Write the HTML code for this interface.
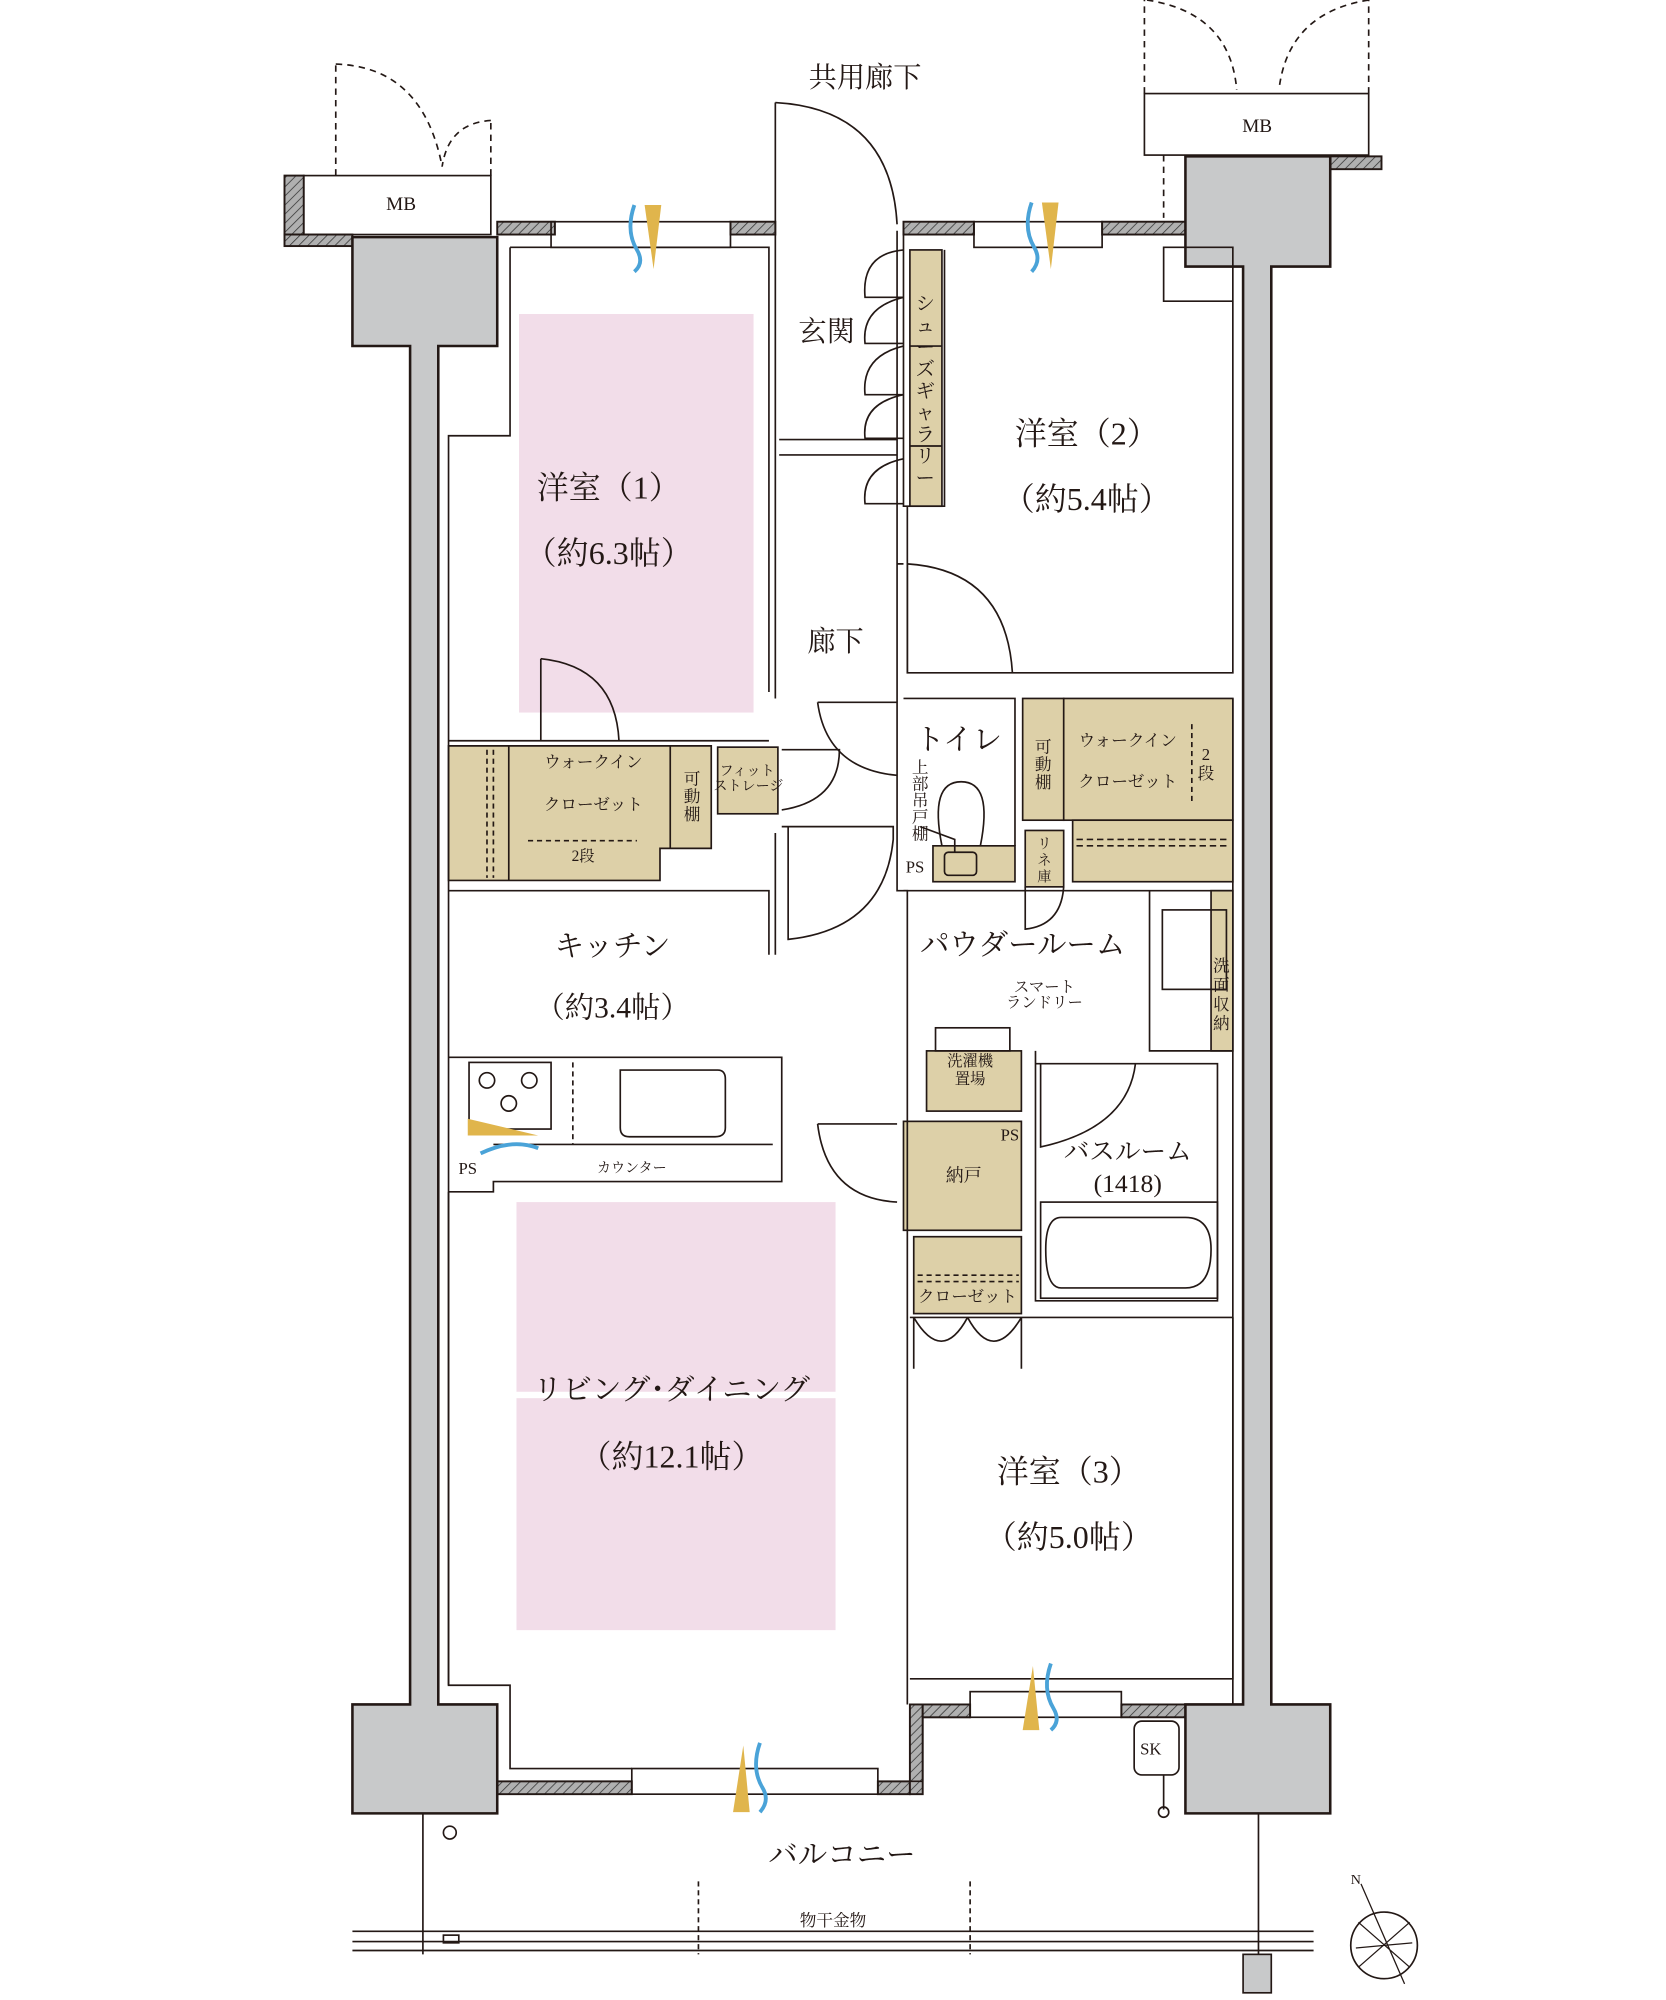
<!DOCTYPE html>
<html><head><meta charset="utf-8"><style>
html,body{margin:0;padding:0;background:#fff;width:1666px;height:2000px;overflow:hidden}
svg{display:block}
text{font-family:"Liberation Serif","Noto Serif CJK SC","Noto Sans CJK JP",serif;fill:#231815}
</style></head><body>
<svg width="1666" height="2000" viewBox="0 0 1300 1560.6" xmlns="http://www.w3.org/2000/svg">
<defs>
<pattern id="h" width="5" height="5" patternUnits="userSpaceOnUse" patternTransform="rotate(45)"><rect width="5" height="5" fill="#b0b0b0"/><line x1="0" y1="0" x2="0" y2="5" stroke="#333" stroke-width="1.2"/></pattern>
</defs>
<g fill="none" stroke="#231815" stroke-width="1.3">
<rect x="237" y="137" width="146" height="46" fill="#fff"/>
<path d="M262 137 V50 M383 137 V94" stroke-dasharray="5 4"/>
<path d="M262 50 Q330 52 345 130 M383 94 Q350 96 345 130" stroke-dasharray="5 4"/>
<rect x="893" y="73" width="175" height="48" fill="#fff"/>
<path d="M893 73 V0 M1068 73 V0 M908 121 V170" stroke-dasharray="5 4"/>
<path d="M895 0 Q960 10 965 70 M1068 0 Q1005 10 998 70" stroke-dasharray="5 4"/>
</g>
<g fill="url(#h)" stroke="#231815" stroke-width="1.5">
<rect x="222" y="137" width="15" height="46"/>
<rect x="222" y="183" width="53" height="9"/>
<rect x="388" y="173" width="45" height="10"/>
<rect x="570" y="173" width="35" height="10"/>
<rect x="705" y="173" width="55" height="10"/>
<rect x="860" y="173" width="65" height="10"/>
<rect x="1038" y="122" width="40" height="10"/>
<rect x="388" y="1390" width="105" height="10"/>
<rect x="685" y="1390" width="25" height="10"/>
<rect x="710" y="1330" width="10" height="70"/>
<rect x="720" y="1330" width="37" height="10"/>
<rect x="875" y="1330" width="50" height="10"/>
</g>
<g fill="#c8c9ca" stroke="#231815" stroke-width="2">
<path d="M275 185 H388 V270 H342 V1330 H388 V1415 H275 V1330 H320 V270 H275 Z"/>
<path d="M925 122 H1038 V208 H992 V1330 H1038 V1415 H925 V1330 H970 V208 H925 Z"/>
</g>
<rect x="405" y="245" width="183" height="311" fill="#f2dde9"/>
<rect x="403" y="938" width="249" height="148" fill="#f2dde9"/>
<rect x="403" y="1091" width="249" height="181" fill="#f2dde9"/>
<g fill="#ddd0a8" stroke="#231815" stroke-width="1.3">
<rect x="710" y="195" width="25" height="200"/>
<path d="M350 582 H555 V662 H515 V687 H350 Z"/>
<rect x="560" y="583" width="47" height="52"/>
<rect x="830" y="545" width="132" height="95"/>
<rect x="837" y="640" width="125" height="48"/>
<rect x="798" y="545" width="32" height="95"/>
<rect x="728" y="660" width="64" height="28"/>
<rect x="800" y="648" width="30" height="44"/>
<rect x="945" y="695" width="17" height="125"/>
<rect x="723" y="820" width="74" height="47"/>
<rect x="705" y="875" width="92" height="85"/>
<rect x="713" y="965" width="84" height="60"/>
</g>
<g fill="none" stroke="#231815" stroke-width="1.3">
<line x1="397" y1="582" x2="397" y2="687"/><line x1="523" y1="582" x2="523" y2="662"/>
<line x1="380" y1="585" x2="380" y2="685" stroke-dasharray="4 3"/><line x1="385" y1="585" x2="385" y2="685" stroke-dasharray="4 3"/>
<line x1="412" y1="656" x2="497" y2="656" stroke-dasharray="4 3"/>
<line x1="930" y1="565" x2="930" y2="625" stroke-dasharray="4 3"/>
<line x1="840" y1="655" x2="960" y2="655" stroke-dasharray="5 3"/><line x1="840" y1="660" x2="960" y2="660" stroke-dasharray="5 3"/>
<line x1="716" y1="995" x2="795" y2="995" stroke-dasharray="4 3"/><line x1="716" y1="1000" x2="795" y2="1000" stroke-dasharray="4 3"/>
<line x1="710" y1="270" x2="735" y2="270"/><line x1="710" y1="348" x2="735" y2="348"/>
<rect x="737" y="665" width="25" height="18" rx="3"/>
<path d="M398 193 V340 H350 V1315 H398 V1380 H493 M398 193 H600 V400 M350 578 H600 M600 400 V540"/>
<path d="M605 180 V545 M700 180 V540 M608 343 H700 M608 355 H700"/>
<path d="M700 540 V695 H708 V1330 M705 545 H792 V660 M705 180 V395 H737 V195 M708 395 V525 H962 V193 L908 193 V235 H962 V525 M962 545 V1330"/>
<path d="M350 695 H600 V745 M605 650 V745 M350 825 H610 V922 H385 V930 H350 M350 930 V1315"/>
<path d="M705 695 H962 M897 695 V820 H962 M808 820 V830 H950 V1015 H808 V830 M710 1028 H962 M710 1310 H962 V1028"/>
<path d="M720 1390 V1340 H757 M685 1390 H720"/>
<path d="M605 80 V180 M605 80 Q695 85 700 175"/>
<path d="M700 440 H705 M708 440 Q785 445 790 525 M708 440 V525"/>
<path d="M638 548 H700 M638 548 Q645 600 700 605"/>
<path d="M610 585 H655 Q655 625 610 632"/>
<path d="M610 645 H697 V655 Q690 725 615 733 V645"/>
<path d="M638 877 H700 M638 877 Q645 935 700 938"/>
<path d="M422 514 V578 M422 514 Q480 520 483 578"/>
<path d="M800 692 V725 Q828 722 830 692"/>
<path d="M812 830 V895 Q880 880 886 830"/>
<path d="M713 1028 Q735 1065 755 1028 M755 1028 Q775 1065 797 1028 M713 1028 V1068 M797 1028 V1068"/>
<path d="M705 195 Q672 198 675 232 Q690 232 705 232 M705 232 Q672 240 675 268 H705 M705 270 Q672 278 675 308 H705 M705 308 Q672 315 675 342 H705 M705 358 Q672 365 675 393 H705"/>
<path d="M735 660 Q725 610 750 610 Q775 610 765 660"/>
<path d="M718 645 L745 655 V665" />
<rect x="366" y="829" width="64" height="52"/>
<circle cx="380" cy="843" r="6"/><circle cx="413" cy="843" r="6"/><circle cx="397" cy="861" r="6"/>
<line x1="447" y1="829" x2="447" y2="893" stroke-dasharray="4 3"/>
<path d="M484 835 H560 Q566 835 566 842 V880 Q566 887 558 887 H491 Q484 887 484 880 Z"/>
<path d="M385 893 H603"/>
<rect x="812" y="938" width="138" height="75"/>
<path d="M828 950 H925 Q945 950 945 975 Q945 1005 925 1005 H828 Q816 1005 816 975 Q816 950 828 950 Z"/>
<rect x="907" y="710" width="50" height="62"/>
<rect x="730" y="802" width="58" height="18"/>
<rect x="430" y="173" width="140" height="20"/><rect x="760" y="173" width="100" height="20"/>
<rect x="493" y="1380" width="192" height="20"/><rect x="757" y="1320" width="118" height="20"/>
<rect x="885" y="1343" width="35" height="42" rx="6"/>
<line x1="908" y1="1385" x2="908" y2="1412"/><circle cx="908" cy="1414" r="4"/>
<circle cx="351" cy="1430" r="5"/>
<path d="M330 1415 V1525 M982 1415 V1525 M275 1507 H1025 M275 1515 H1025 M275 1522 H1025"/>
<path d="M545 1468 V1525 M757 1468 V1525" stroke-dasharray="4 3"/>
<rect x="346" y="1510" width="12" height="6"/>
<rect x="970" y="1525" width="22" height="30" fill="#c8c9ca"/>
<circle cx="1080" cy="1518" r="26"/>
<path d="M1062 1470 L1096 1548 M1058 1520 L1102 1516 M1060 1535 L1100 1500 M1060 1500 L1100 1535" stroke-width="1"/>
</g>
<g>
<path d="M503 160 L516 160 L510 210 Z" fill="#e0b54c"/><path d="M495 160 Q488 180 497 195 Q503 205 495 212" fill="none" stroke="#4aa3d8" stroke-width="3"/>
<path d="M813 158 L826 158 L820 210 Z" fill="#e0b54c"/><path d="M805 158 Q798 178 807 193 Q813 203 805 212" fill="none" stroke="#4aa3d8" stroke-width="3"/>
<path d="M572 1414 L585 1414 L580 1362 Z" fill="#e0b54c"/><path d="M593 1360 Q586 1380 595 1395 Q601 1405 593 1414" fill="none" stroke="#4aa3d8" stroke-width="3"/>
<path d="M798 1350 L811 1350 L806 1300 Z" fill="#e0b54c"/><path d="M820 1298 Q813 1318 822 1333 Q828 1343 820 1350" fill="none" stroke="#4aa3d8" stroke-width="3"/>
<path d="M365 886 L420 886 L365 873 Z" fill="#e0b54c"/><path d="M375 900 Q400 888 420 896" fill="none" stroke="#4aa3d8" stroke-width="3"/>
</g>
<g font-size="22" text-anchor="middle">
<text x="675" y="68">共用廊下</text>
<text x="313" y="164" font-size="15">MB</text>
<text x="981" y="103" font-size="15">MB</text>
<text x="645" y="266">玄関</text>
<text x="475" y="389" font-size="25">洋室（1）</text>
<text x="475" y="440" font-size="25">（約6.3帖）</text>
<text x="848" y="347" font-size="25">洋室（2）</text>
<text x="848" y="398" font-size="25">（約5.4帖）</text>
<text x="652" y="508">廊下</text>
<text x="748" y="585" font-size="23">トイレ</text>
<text x="478" y="746" font-size="23">キッチン</text>
<text x="478" y="794" font-size="23">（約3.4帖）</text>
<text x="798" y="745" font-size="23">パウダールーム</text>
<text x="880" y="905" font-size="20">バスルーム</text>
<text x="880" y="930" font-size="20">(1418)</text>
<text x="524" y="1092" font-size="23">リビング･ダイニング</text>
<text x="524" y="1145" font-size="25">（約12.1帖）</text>
<text x="834" y="1157" font-size="25">洋室（3）</text>
<text x="834" y="1208" font-size="25">（約5.0帖）</text>
<text x="657" y="1455" font-size="23">バルコニー</text>
<text x="650" y="1503" font-size="13">物干金物</text>
<text x="463" y="599" font-size="13">ウォークイン</text>
<text x="463" y="632" font-size="13">クローゼット</text>
<text x="455" y="672" font-size="12">2段</text>
<text x="880" y="582" font-size="13">ウォークイン</text>
<text x="880" y="614" font-size="13">クローゼット</text>
<text x="752" y="922" font-size="14">納戸</text>
<text x="755" y="1016" font-size="13">クローゼット</text>
<text x="493" y="915" font-size="11">カウンター</text>
<text x="365" y="916" font-size="13">PS</text>
<text x="714" y="681" font-size="13">PS</text>
<text x="788" y="890" font-size="13">PS</text>
<text x="898" y="1369" font-size="13">SK</text>
<text x="815" y="774" font-size="12">スマート</text>
<text x="815" y="786" font-size="12">ランドリー</text>
<text x="757" y="832" font-size="12">洗濯機</text>
<text x="757" y="846" font-size="12">置場</text>
<text x="583" y="605" font-size="11">フィット</text>
<text x="584" y="617" font-size="11">ストレージ</text>
</g>
<g font-size="13" text-anchor="middle">
<text x="540" y="612">可</text><text x="540" y="626">動</text><text x="540" y="640">棚</text>
<text x="814" y="587">可</text><text x="814" y="601">動</text><text x="814" y="615">棚</text>
<text x="941" y="593">2</text><text x="941" y="608">段</text>
<text x="718" y="603">上</text><text x="718" y="616">部</text><text x="718" y="629">吊</text><text x="718" y="642">戸</text><text x="718" y="655">棚</text>
<text x="815" y="662" font-size="11">リ</text><text x="815" y="675" font-size="11">ネ</text><text x="815" y="688" font-size="11">庫</text>
<text x="953" y="758">洗</text><text x="953" y="773">面</text><text x="953" y="788">収</text><text x="953" y="803">納</text>
<g font-size="15"><text x="722" y="242">シ</text><text x="722" y="259">ュ</text><text x="722" y="276">ー</text><text x="722" y="293">ズ</text><text x="722" y="310">ギ</text><text x="722" y="327">ャ</text><text x="722" y="344">ラ</text><text x="722" y="361">リ</text><text x="722" y="378">ー</text></g>
<text x="1058" y="1470" font-size="11">N</text>
</g>
</svg>
</body></html>
